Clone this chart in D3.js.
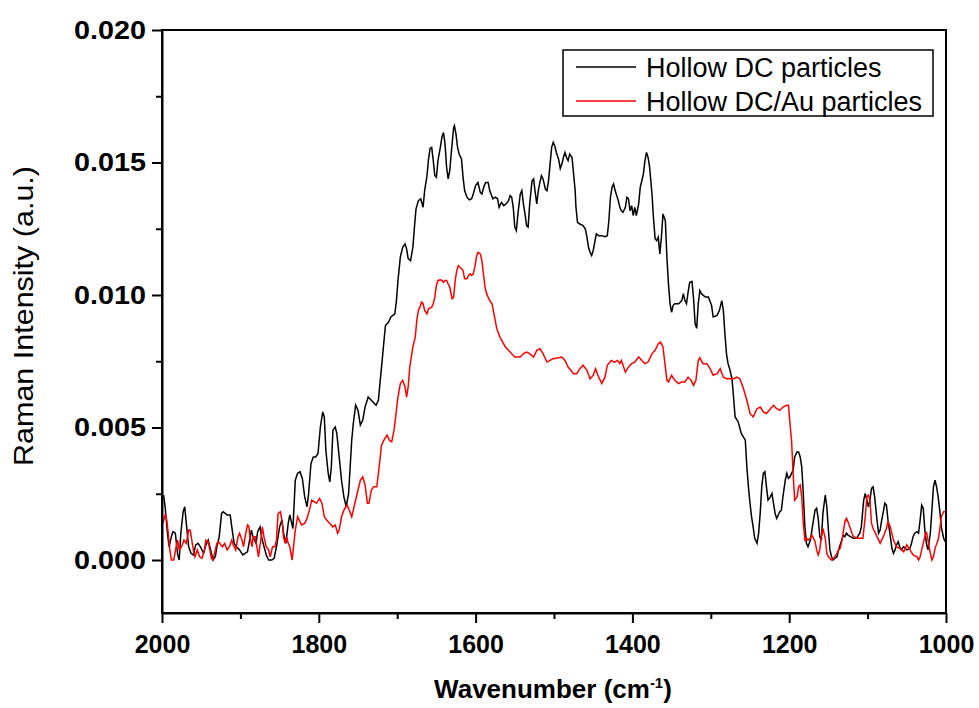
<!DOCTYPE html>
<html>
<head>
<meta charset="utf-8">
<script src="https://cdn.jsdelivr.net/npm/d3@7"></script>
<style>
  body { margin: 0; background: #fff; }
  text { font-family: "Liberation Sans", Arial, sans-serif; }
</style>
</head>
<body>
<div id="chart"></div>
<script>
// Hollow DC particles (black) - wavenumber (cm-1) and intensity (x1e-3 a.u.)
const dcWave = [
  1998,1996,1993,1991,1988,1986,1983,1980,1978,1976,
  1973,1971,1969,1966,1963,1960,1957,1954,1951,1947,
  1944,1941,1938,1935,1932,1930,1927,1924,1922,1917,
  1913,1911,1908,1905,1901,1897,1894,1891,1889,1886,
  1884,1880,1878,1875,1873,1871,1867,1864,1860,1857,
  1854,1850,1847,1845,1842,1839,1837,1833,1830,1827,
  1824,1821,1818,1815,1813,1810,1807,1804,1801,1798,
  1795,1793,1791,1788,1786,1784,1782,1779,1777,1774,
  1771,1768,1765,1762,1760,1758,1756,1753,1750,1747,
  1744,1741,1737,1733,1727,1724,1722,1720,1718,1715,
  1711,1708,1703,1701,1699,1696,1693,1690,1688,1686,
  1683,1680,1678,1676,1673,1670,1667,1665,1662,1660,
  1658,1656,1654,1652,1650,1648,1645,1643,1641,1639,
  1637,1635,1633,1630,1628,1627,1625,1623,1621,1618,
  1616,1614,1611,1608,1605,1603,1600,1597,1594,1592,
  1589,1587,1584,1582,1578,1575,1572,1570,1567,1564,
  1561,1558,1556,1554,1552,1550,1548,1546,1543,1541,
  1539,1537,1535,1533,1531,1528,1526,1524,1522,1520,
  1518,1516,1514,1511,1509,1507,1505,1503,1501,1499,
  1497,1494,1492,1490,1488,1486,1484,1482,1480,1477,
  1475,1473,1472,1470,1467,1463,1460,1458,1456,1454,
  1452,1450,1448,1446,1443,1439,1435,1432,1430,1428,
  1426,1424,1422,1420,1418,1416,1414,1412,1409,1407,
  1405,1403,1401,1399,1397,1395,1392,1390,1388,1386,
  1384,1382,1380,1378,1375,1373,1371,1369,1367,1365,
  1363,1361,1358,1356,1354,1352,1350,1348,1346,1341,
  1337,1335,1333,1331,1329,1327,1324,1322,1320,1318,
  1316,1314,1312,1307,1303,1299,1297,1292,1289,1286,
  1284,1282,1280,1278,1276,1273,1271,1269,1265,1261,
  1256,1254,1252,1250,1248,1246,1244,1241,1239,1237,
  1235,1233,1231,1229,1227,1224,1222,1220,1218,1216,
  1214,1212,1210,1208,1205,1203,1201,1199,1197,1195,
  1193,1190,1188,1186,1184,1182,1180,1178,1176,1173,
  1171,1169,1167,1165,1163,1161,1159,1157,1154,1152,
  1150,1148,1146,1144,1142,1139,1137,1135,1133,1131,
  1129,1127,1125,1122,1118,1114,1110,1108,1105,1103,
  1101,1099,1097,1095,1093,1091,1088,1086,1084,1082,
  1080,1078,1076,1074,1071,1069,1067,1065,1063,1061,
  1059,1057,1054,1050,1046,1044,1042,1040,1037,1035,
  1033,1031,1029,1027,1025,1023,1020,1018,1016,1014,
  1012,1010,1008,1006,1003,1001
];
const dcIntensity = [
  2.45,2.01,1.01,0.50,0.88,1.07,1.01,0.19,0,1.01,
  1.82,2.01,1.38,0.50,0.25,0.19,0.57,0.63,0.50,0.25,
  0.57,0.75,0.38,0,0.12,0.50,0.88,1.76,1.82,1.70,
  1.70,1.25,0.63,0.50,0.38,0.19,0.25,0.31,0.63,1.13,
  0.88,0.63,1.07,1.25,0.88,0.63,0.19,0,0,0.06,
  0.50,1.25,1.51,1.01,0.63,1.38,1.70,1.19,3.01,3.27,
  3.33,3.08,2.38,2.01,2.51,3.64,3.89,3.89,4.02,5.02,
  5.59,5.40,4.14,3.27,2.95,3.51,4.90,5.02,4.77,3.89,
  3.01,2.38,2.01,2.51,3.51,4.52,5.15,5.84,5.65,5.09,
  5.27,5.77,6.15,6.03,5.84,6.03,6.66,7.28,7.91,8.85,
  8.98,9.17,9.29,9.79,10.55,11.43,11.80,11.93,11.74,11.37,
  11.30,11.80,12.56,13.25,13.56,13.63,13.31,13.94,14.50,15.14,
  15.54,15.57,15.07,14.50,14.44,15.07,15.57,15.95,16.13,15.70,
  14.82,14.38,14.69,15.70,16.32,16.39,16.07,15.57,15.32,15.13,
  14.44,13.94,13.69,13.59,13.63,13.81,14.13,14.25,13.87,13.81,
  14.13,14.25,14.25,13.94,13.63,13.69,13.63,13.31,13.50,13.37,
  13.44,13.56,13.75,13.69,13.31,12.56,12.43,13.06,13.81,13.94,
  13.44,13.06,12.62,12.56,13.44,14.31,14.38,13.87,13.44,13.94,
  14.25,14.50,14.38,14.00,13.94,14.31,14.94,15.57,15.76,15.63,
  15.38,15.11,14.77,14.94,15.19,15.38,15.19,15.07,15.32,15.19,
  14.57,13.94,13.31,12.74,12.68,12.62,12.49,12.18,11.80,11.61,
  11.49,11.68,11.99,12.31,12.24,12.24,12.20,12.24,12.81,13.69,
  14.06,14.19,13.94,13.75,13.56,13.31,13.18,13.12,13.31,13.69,
  13.63,13.18,13.37,13.00,13.31,13.00,13.44,14.06,14.31,14.57,
  15.07,15.38,15.19,14.82,13.81,12.86,12.12,12.05,12.18,11.55,
  12.18,13.06,12.81,11.43,10.42,9.67,9.35,9.61,9.67,9.67,
  9.79,10.05,9.79,9.67,10.10,10.47,10.51,9.87,8.92,8.74,
  9.67,10.17,10.05,9.92,9.92,9.61,9.17,9.23,9.42,9.79,
  9.42,8.54,7.79,7.41,7.22,6.84,6.15,5.40,5.21,4.77,
  4.52,3.51,2.76,2.14,1.63,1.25,0.82,0.63,1.01,1.76,
  2.76,3.27,3.33,2.76,2.26,2.38,2.51,2.14,1.76,1.57,
  1.70,1.82,1.88,2.38,3.01,3.27,3.08,3.14,3.27,3.39,
  3.89,4.08,4.08,3.89,3.51,2.51,1.25,0.63,0.50,0.75,
  1.13,1.51,1.88,1.95,1.57,0.88,0.75,1.76,2.45,2.01,
  1.13,0.38,0.12,0,0.06,0.12,0.38,0.57,0.75,0.94,
  0.88,1.01,0.94,0.88,0.82,0.82,1.01,1.25,2.26,2.51,
  2.26,2.01,2.26,2.70,2.76,2.38,1.51,1.01,1.13,1.51,
  1.82,2.14,2.07,1.51,0.88,0.44,0.25,0.38,0.57,0.69,
  0.50,0.38,0.50,0.38,0.44,0.63,0.88,1.01,1.07,1.01,
  1.51,2.07,1.95,1.13,0.63,0.38,1.01,1.88,2.76,3.01,
  2.76,2.38,1.88,1.25,0.82,0.69
];

// Hollow DC/Au particles (red)
const auWave = [
  1999,1996,1994,1992,1990,1988,1985,1982,1980,1978,
  1975,1972,1969,1966,1964,1962,1960,1958,1955,1952,
  1949,1946,1944,1941,1939,1937,1935,1932,1930,1928,
  1925,1923,1920,1917,1914,1911,1909,1906,1903,1901,
  1898,1896,1894,1891,1889,1888,1885,1884,1881,1879,
  1877,1874,1872,1870,1867,1864,1862,1859,1856,1854,
  1852,1849,1847,1845,1843,1841,1839,1837,1834,1830,
  1827,1822,1818,1815,1812,1809,1806,1803,1799,1796,
  1793,1790,1786,1782,1779,1776,1774,1771,1768,1764,
  1761,1758,1754,1750,1747,1744,1741,1738,1736,1733,
  1730,1726,1723,1720,1717,1713,1710,1707,1704,1702,
  1699,1696,1693,1690,1688,1686,1684,1680,1677,1675,
  1673,1671,1669,1667,1665,1662,1660,1656,1654,1652,
  1650,1648,1645,1643,1641,1639,1637,1635,1633,1630,
  1628,1626,1624,1622,1620,1618,1616,1614,1611,1609,
  1607,1605,1603,1601,1599,1597,1594,1592,1590,1588,
  1586,1584,1582,1579,1577,1575,1573,1569,1562,1556,
  1550,1543,1539,1535,1531,1526,1522,1518,1514,1509,
  1505,1501,1499,1490,1486,1482,1475,1471,1467,1463,
  1458,1454,1450,1447,1443,1439,1435,1432,1427,1423,
  1419,1416,1414,1409,1405,1401,1397,1392,1388,1384,
  1380,1375,1371,1367,1364,1361,1358,1356,1354,1350,
  1346,1341,1337,1333,1329,1325,1322,1319,1316,1314,
  1310,1305,1301,1297,1292,1288,1284,1280,1276,1271,
  1267,1263,1259,1254,1250,1246,1241,1237,1233,1229,
  1224,1220,1216,1212,1208,1203,1201,1199,1197,1195,
  1193,1190,1188,1186,1184,1182,1180,1178,1176,1173,
  1171,1169,1167,1165,1163,1161,1159,1157,1154,1152,
  1150,1148,1146,1144,1142,1139,1137,1135,1133,1131,
  1129,1127,1125,1122,1120,1118,1114,1110,1106,1103,
  1101,1099,1097,1095,1093,1088,1084,1080,1076,1074,
  1071,1067,1063,1059,1054,1050,1046,1042,1037,1035,
  1033,1031,1027,1025,1023,1020,1018,1016,1014,1010,
  1008,1006,1003,1001
];
const auIntensity = [
  1.38,1.70,1.51,1.01,0.38,0,0,0.50,0.75,0.38,
  0.50,0.75,0.63,1.13,1.13,0.75,0.38,0.12,0.38,0.12,
  0.06,0.38,0.75,0.69,0.38,0.06,0,0.38,0.63,0.69,
  0.57,0.50,0.63,0.38,0.50,0.75,0.57,0.38,0.88,1.01,
  0.75,0.50,0.88,1.32,1.25,0.88,0.50,0.88,0.88,0.50,
  0.12,0.75,1.25,0.88,0.50,0.38,0.12,0.50,0.50,0.75,
  1.76,1.82,1.51,0.88,0.63,0.88,0.63,0.50,0,1.13,
  1.63,1.32,1.38,1.57,1.88,2.26,2.20,2.14,2.32,2.14,
  1.63,1.51,1.38,1.25,1.32,1.01,1.13,1.63,1.88,2.07,
  1.88,1.63,2.14,2.64,3.01,3.14,2.83,2.14,2.14,2.64,
  2.76,2.76,3.51,4.33,4.52,4.71,4.52,4.46,4.90,5.40,
  6.15,6.66,6.78,6.53,6.15,6.53,7.28,8.04,8.41,9.04,
  9.42,9.54,9.73,9.68,9.42,9.29,9.48,9.54,9.67,9.92,
  10.36,10.55,10.57,10.55,10.48,10.55,10.55,10.42,10.30,9.86,
  9.92,10.55,10.92,11.11,11.05,10.99,10.92,10.61,10.61,10.74,
  10.80,10.74,10.80,11.05,11.43,11.61,11.55,11.30,10.80,10.30,
  10.05,9.92,9.79,9.67,9.35,9.04,8.73,8.41,8.04,7.85,
  7.66,7.66,7.79,7.85,7.79,7.66,7.91,7.97,7.79,7.47,
  7.53,7.60,7.60,7.66,7.53,7.28,7.03,7.03,7.22,7.35,
  7.16,6.84,6.97,7.22,6.90,6.66,6.90,7.35,7.53,7.47,
  7.53,7.41,7.53,7.09,7.28,7.41,7.47,7.66,7.53,7.41,
  7.47,7.79,7.91,8.16,8.22,8.04,7.28,6.78,6.72,6.97,
  6.78,6.66,6.72,6.72,6.90,6.78,6.59,6.78,7.53,7.63,
  7.41,7.41,7.22,6.97,7.03,7.22,6.90,6.84,6.84,6.84,
  6.90,6.84,6.53,6.03,5.53,5.40,5.71,5.77,5.59,5.53,
  5.71,5.84,5.71,5.65,5.77,5.84,5.84,5.15,4.52,3.27,
  2.26,2.38,2.76,2.83,2.38,1.38,0.75,0.82,0.75,0.82,
  0.94,0.82,0.69,0.38,0.19,0.38,0.88,1.19,0.82,0.25,
  0.12,0.06,0,0.03,0.12,0.25,0.38,0.44,0.69,1.07,
  1.44,1.57,1.44,1.19,1.01,0.88,0.82,0.82,0.82,1.63,
  2.38,2.45,2.26,1.38,1.19,0.88,0.63,0.88,1.19,1.44,
  1.25,0.75,0.50,0.44,0.31,0.57,0.38,0.19,0.12,0,
  0.12,0.38,0.88,1.07,0.75,0.25,0,0.12,0.44,0.75,
  1.13,1.63,1.82,1.82
];

const seriesNames = ['Hollow DC particles', 'Hollow DC/Au particles'];
const seriesColors = ['#000000', '#ff0000'];
const xMajorTicks = [2000, 1800, 1600, 1400, 1200, 1000];
const xMinorTicks = [1900, 1700, 1500, 1300, 1100];
const yMajorTicks = [0, 0.005, 0.010, 0.015, 0.020];
const yMinorTicks = [0.0025, 0.0075, 0.0125, 0.0175];
const intensityUnit = 1e-3;

const width = 979, height = 708;
const plot = { left: 162, right: 946, top: 30, bottom: 613 };

const svg = d3.select('#chart').append('svg')
  .attr('width', width)
  .attr('height', height);

const x = d3.scaleLinear().domain([2000, 1000]).range([plot.left, plot.right]);
const y = d3.scaleLinear().domain([-0.002, 0.020]).range([plot.bottom, plot.top]);

// build the two series
const series = [
  d3.zip(dcWave, dcIntensity).map(([w, v]) => ({ w, v: v * intensityUnit })),
  d3.zip(auWave, auIntensity).map(([w, v]) => ({ w, v: v * intensityUnit }))
];

svg.append('clipPath').attr('id', 'plot-clip')
  .append('rect')
  .attr('x', plot.left).attr('y', plot.top)
  .attr('width', plot.right - plot.left).attr('height', plot.bottom - plot.top);

const line = d3.line().x(d => x(d.w)).y(d => y(d.v));

svg.append('g').attr('clip-path', 'url(#plot-clip)')
  .selectAll('path')
  .data(series)
  .join('path')
  .attr('d', line)
  .attr('fill', 'none')
  .attr('stroke', (d, i) => seriesColors[i])
  .attr('stroke-width', 1.5)
  .attr('stroke-linejoin', 'miter');

// axes
const xAxis = svg.append('g')
  .attr('transform', `translate(0,${plot.bottom})`)
  .call(d3.axisBottom(x).tickValues(xMajorTicks).tickSize(10).tickSizeOuter(0).tickPadding(12).tickFormat(d3.format('d')));
svg.append('g')
  .attr('transform', `translate(0,${plot.bottom})`)
  .call(d3.axisBottom(x).tickValues(xMinorTicks).tickSize(6).tickSizeOuter(0).tickFormat(''))
  .select('.domain').remove();

const yAxis = svg.append('g')
  .attr('transform', `translate(${plot.left},0)`)
  .call(d3.axisLeft(y).tickValues(yMajorTicks).tickSize(10).tickSizeOuter(0).tickPadding(6).tickFormat(d3.format('.3f')));
svg.append('g')
  .attr('transform', `translate(${plot.left},0)`)
  .call(d3.axisLeft(y).tickValues(yMinorTicks).tickSize(6).tickSizeOuter(0).tickFormat(''))
  .select('.domain').remove();

svg.selectAll('.tick line').attr('stroke', '#000').attr('stroke-width', 2);
svg.selectAll('.domain').attr('stroke', '#000').attr('stroke-width', 2);
[xAxis, yAxis].forEach(g => g.selectAll('text')
  .attr('fill', '#000')
  .style('font-size', '25px')
  .style('font-weight', 'bold'));
// the reference draws the y tick labels a little wider
yAxis.selectAll('text')
  .attr('textLength', 72)
  .attr('lengthAdjust', 'spacingAndGlyphs');

// frame
svg.append('rect')
  .attr('x', plot.left).attr('y', plot.top)
  .attr('width', plot.right - plot.left).attr('height', plot.bottom - plot.top)
  .attr('fill', 'none').attr('stroke', '#000').attr('stroke-width', 2);

// axis titles
svg.append('text')
  .attr('transform', 'translate(33,316) rotate(-90)')
  .attr('text-anchor', 'middle')
  .attr('textLength', 300)
  .attr('lengthAdjust', 'spacingAndGlyphs')
  .style('font-size', '27px')
  .text('Raman Intensity (a.u.)');

const xTitle = svg.append('text')
  .attr('x', 553).attr('y', 698)
  .attr('text-anchor', 'middle')
  .style('font-size', '26px')
  .style('font-weight', 'bold');
xTitle.append('tspan').text('Wavenumber (cm');
xTitle.append('tspan').attr('dy', -10).style('font-size', '15px').text('-1');
xTitle.append('tspan').attr('dy', 10).text(')');

// legend
const legend = svg.append('g');
legend.append('rect')
  .attr('x', 563).attr('y', 50).attr('width', 370).attr('height', 66)
  .attr('fill', '#fff').attr('stroke', '#000').attr('stroke-width', 1.5);
const items = legend.selectAll('g.item')
  .data(seriesNames)
  .join('g')
  .attr('class', 'item')
  .attr('transform', (d, i) => `translate(0,${67 + i * 34})`);
items.append('line')
  .attr('x1', 576).attr('x2', 636)
  .attr('stroke', (d, i) => seriesColors[i])
  .attr('stroke-width', 1.5);
items.append('text')
  .attr('x', 646).attr('y', 10)
  .style('font-size', '27px')
  .text(d => d);
</script>
</body>
</html>
